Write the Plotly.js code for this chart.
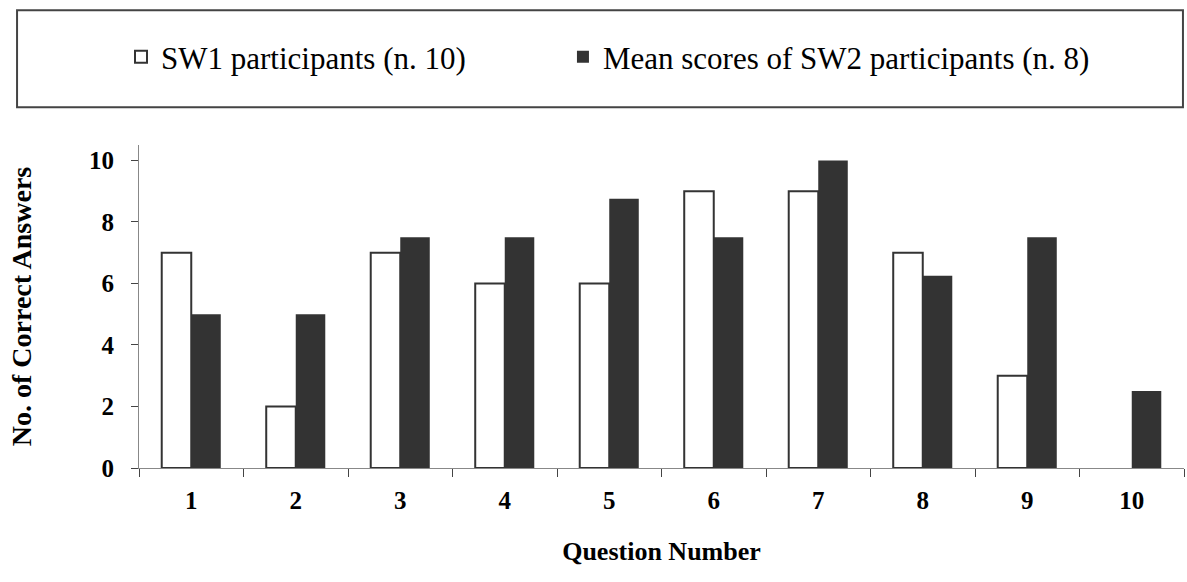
<!DOCTYPE html>
<html>
<head>
<meta charset="utf-8">
<script src="https://cdn.plot.ly/plotly-3.0.1.min.js"></script>
<style>html,body{margin:0;padding:0;background:#fff;}#chart{width:1187px;height:582px;}</style>
</head>
<body>
<div id="chart"></div>
<script>
const questions = ['1','2','3','4','5','6','7','8','9','10'];
const sw1Scores = [7, 2, 7, 6, 6, 9, 9, 7, 3, 0];
const sw2MeanScores = [5, 5, 7.5, 7.5, 8.75, 7.5, 10, 6.25, 7.5, 2.5];
const yTicks = [0, 2, 4, 6, 8, 10];
const seriesNames = ['SW1 participants (n. 10)', 'Mean scores of SW2 participants (n. 8)'];

const FONT = '"Liberation Serif", "Times New Roman", serif';
const legendFont = {family:FONT, size:31, color:'#000'};
const traces = [
  {type:'bar', x:questions, y:sw1Scores, name:seriesNames[0], legend:'legend',
   marker:{color:'#ffffff', line:{color:'#333333', width:sw1Scores.map(v => v > 0 ? 2 : 0)}}},
  {type:'bar', x:questions, y:sw2MeanScores, name:seriesNames[1], legend:'legend2',
   marker:{color:'#333333', line:{color:'#333333', width:0}}}
];
const layout = {
  width:1187, height:582,
  margin:{l:139, r:3, t:145, b:114},
  paper_bgcolor:'#fff', plot_bgcolor:'#fff',
  barmode:'group', bargap:0.435, bargroupgap:0,
  font:{family:FONT, color:'#000'},
  showlegend:true,
  legend:{orientation:'h', x:-0.0172, xanchor:'left', y:1.272, yanchor:'middle',
          font:legendFont, bgcolor:'rgba(0,0,0,0)', borderwidth:0, itemwidth:30},
  legend2:{orientation:'h', x:0.4057, xanchor:'left', y:1.272, yanchor:'middle',
          font:legendFont, bgcolor:'rgba(0,0,0,0)', borderwidth:0, itemwidth:30},
  xaxis:{type:'category', tickson:'boundaries', ticks:'outside', ticklen:8, tickcolor:'#444',
         showline:true, linecolor:'#888', linewidth:1, showgrid:false, zeroline:false,
         ticklabelstandoff:10,
         tickfont:{family:FONT, size:25, color:'#000', weight:'bold'},
         title:{text:'<b>Question Number</b>', standoff:28, font:{family:FONT, size:26, color:'#000'}}},
  yaxis:{range:[0,10.5], tickvals:yTicks, ticks:'outside', ticklen:7, tickcolor:'#444',
         showline:true, linecolor:'#888', linewidth:1, showgrid:false, zeroline:false,
         ticklabelstandoff:12,
         tickfont:{family:FONT, size:25, color:'#000', weight:'bold'},
         title:{text:'<b>No. of Correct Answers</b>', standoff:49, font:{family:FONT, size:28, color:'#000'}}},
  shapes:[{type:'rect', xref:'paper', yref:'paper', x0:-0.1167, x1:0.999, y0:1.117, y1:1.417,
           line:{color:'#444', width:2}, fillcolor:'rgba(0,0,0,0)', layer:'below'}]
};
Plotly.newPlot('chart', traces, layout, {staticPlot:true, displayModeBar:false});
</script>
</body>
</html>
